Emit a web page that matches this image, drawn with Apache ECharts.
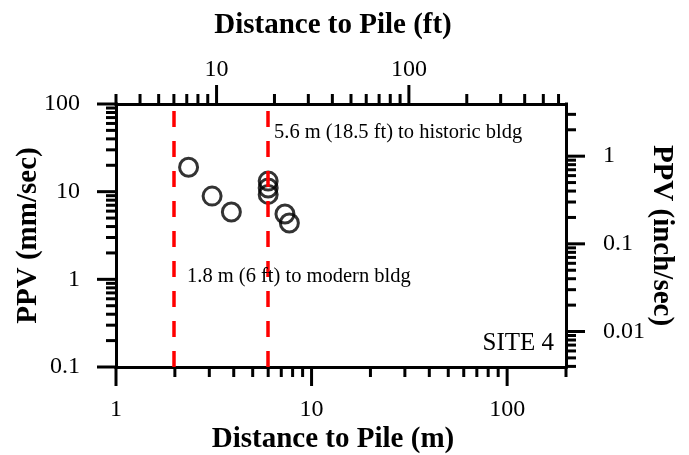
<!DOCTYPE html>
<html>
<head>
<meta charset="utf-8">
<script src="https://cdn.jsdelivr.net/npm/echarts@6/dist/echarts.min.js"></script>
<style>
html,body{margin:0;padding:0;background:#fff;}
#chart{width:689px;height:455px;}
</style>
</head>
<body>
<div id="chart"></div>
<script>
// ---- data ----
const distanceM = [2.35, 3.10, 3.89, 6.0, 6.0, 6.0, 7.31, 7.7];
const ppvMm     = [19.0, 8.9, 5.86, 13.2, 11.0, 9.3, 5.56, 4.39];
const refLinesFt = [6, 18.5];

// axis ranges
const xRangeM  = [1, 200];
const xRangeFt = [3, 656];
const yRangeMm = [0.1, 100];
const yRangeIn = [0.1 / 25.4, 100 / 25.4];

// tick labels
const xLabelsM  = ['1', '10', '100'];
const xLabelsFt = ['10', '100'];
const yLabelsMm = ['0.1', '1', '10', '100'];
const yLabelsIn = ['0.01', '0.1', '1'];

// tick values
const xMajorM  = [1, 10, 100];
const xMinorM  = [2,3,4,5,6,7,8,9,20,30,40,50,60,70,80,90,200];
const xMajorFt = [10, 100];
const xMinorFt = [3,4,5,6,7,8,9,20,30,40,50,60,70,80,90,200,300,400,500,600];
const yMajorMm = [0.1, 1, 10, 100];
const yMinorMm = [0.2,0.3,0.4,0.5,0.6,0.7,0.8,0.9,2,3,4,5,6,7,8,9,20,30,40,50,60,70,80,90];
const yMajorIn = [0.01, 0.1, 1];
const yMinorIn = [0.004,0.005,0.006,0.007,0.008,0.009,0.02,0.03,0.04,0.05,0.06,0.07,0.08,0.09,0.2,0.3,0.4,0.5,0.6,0.7,0.8,0.9,2,3];

const annotations = [
  {text: '5.6 m (18.5 ft) to historic bldg'},
  {text: '1.8 m (6 ft) to modern bldg'},
  {text: 'SITE 4'}
];

// ---- styles ----
const SERIF = '"Liberation Serif", "Times New Roman", serif';
const MAJOR = 19, MINOR = 10;

function lookupLabel(labels) {
  return function (v) {
    for (const s of labels) {
      if (Math.abs(Number(s) / v - 1) < 1e-6) return s;
    }
    return '';
  };
}

function tickData(major, minor, fixed, isX) {
  const out = [];
  major.forEach(v => out.push(isX ? [v, fixed, MAJOR] : [fixed, v, MAJOR]));
  minor.forEach(v => out.push(isX ? [v, fixed, MINOR] : [fixed, v, MINOR]));
  return out;
}

function tickSeries(xi, yi, data, dir) {
  return {
    type: 'custom',
    xAxisIndex: xi,
    yAxisIndex: yi,
    clip: false,
    silent: true,
    z: 3,
    data: data,
    renderItem: function (params, api) {
      const p = api.coord([api.value(0), api.value(1)]);
      const len = api.value(2);
      let x2 = p[0], y2 = p[1];
      if (dir === 'down') y2 += len;
      else if (dir === 'up') y2 -= len;
      else if (dir === 'left') x2 -= len;
      else x2 += len;
      return {
        type: 'line',
        shape: {x1: p[0], y1: p[1], x2: x2, y2: y2},
        style: {stroke: '#000', lineWidth: 3}
      };
    }
  };
}

const axisLineStyle = {show: true, onZero: false, lineStyle: {color: '#000', width: 3, cap: 'square'}};
const labelStyle = {color: '#000', fontFamily: SERIF, fontSize: 24};
const nameStyle = {color: '#000', fontFamily: SERIF, fontSize: 29, fontWeight: 'bold'};

const chart = echarts.init(document.getElementById('chart'), null, {renderer: 'canvas'});

const option = {
  animation: false,
  backgroundColor: '#fff',
  grid: {left: 116, right: 123, top: 104, bottom: 88, containLabel: false, outerBoundsMode: 'none'},
  xAxis: [
    {
      type: 'log', logBase: 10, position: 'bottom',
      min: xRangeM[0], max: xRangeM[1],
      axisLine: axisLineStyle, axisTick: {show: false}, splitLine: {show: false}, minorTick: {show: false},
      axisLabel: Object.assign({margin: 31, formatter: lookupLabel(xLabelsM)}, labelStyle),
      name: 'Distance to Pile (m)', nameLocation: 'middle', nameGap: 58, nameMoveOverlap: false,
      nameTextStyle: Object.assign({padding: [0, 16, 0, 0]}, nameStyle)
    },
    {
      type: 'log', logBase: 10, position: 'top',
      min: xRangeFt[0], max: xRangeFt[1],
      axisLine: axisLineStyle, axisTick: {show: false}, splitLine: {show: false}, minorTick: {show: false},
      axisLabel: Object.assign({margin: 22, formatter: lookupLabel(xLabelsFt)}, labelStyle),
      name: 'Distance to Pile (ft)', nameLocation: 'middle', nameGap: 64, nameMoveOverlap: false,
      nameTextStyle: Object.assign({padding: [0, 16, 0, 0]}, nameStyle)
    }
  ],
  yAxis: [
    {
      type: 'log', logBase: 10, position: 'left',
      min: yRangeMm[0], max: yRangeMm[1],
      axisLine: axisLineStyle, axisTick: {show: false}, splitLine: {show: false}, minorTick: {show: false},
      axisLabel: Object.assign({margin: 36, formatter: lookupLabel(yLabelsMm)}, labelStyle),
      name: 'PPV (mm/sec)', nameLocation: 'middle', nameGap: 73, nameRotate: 90, nameMoveOverlap: false,
      nameTextStyle: nameStyle
    },
    {
      type: 'log', logBase: 10, position: 'right',
      min: yRangeIn[0], max: yRangeIn[1],
      axisLine: axisLineStyle, axisTick: {show: false}, splitLine: {show: false}, minorTick: {show: false},
      axisLabel: Object.assign({margin: 37, formatter: lookupLabel(yLabelsIn)}, labelStyle),
      name: 'PPV (inch/sec)', nameLocation: 'middle', nameGap: 81, nameRotate: -90, nameMoveOverlap: false,
      nameTextStyle: nameStyle
    }
  ],
  series: [
    tickSeries(0, 0, tickData(xMajorM, xMinorM, yRangeMm[0], true), 'down'),
    tickSeries(1, 0, tickData(xMajorFt, xMinorFt, yRangeMm[1], true), 'up'),
    tickSeries(0, 0, tickData(yMajorMm, yMinorMm, xRangeM[0], false), 'left'),
    tickSeries(0, 1, tickData(yMajorIn, yMinorIn, xRangeM[1], false), 'right'),
    {
      type: 'scatter',
      xAxisIndex: 0, yAxisIndex: 0,
      z: 4,
      symbol: 'circle',
      symbolSize: 18,
      itemStyle: {color: 'rgba(0,0,0,0)', borderColor: '#000', borderWidth: 3},
      data: distanceM.map((x, i) => [x, ppvMm[i]])
    },
    {
      type: 'scatter',
      xAxisIndex: 1, yAxisIndex: 0,
      z: 6,
      data: [],
      markLine: {
        silent: true,
        symbol: ['none', 'none'],
        label: {show: false},
        lineStyle: {color: '#ff0000', width: 3.5, type: [16, 14]},
        z: 6,
        data: refLinesFt.map(v => ({xAxis: v}))
      }
    }
  ],
  graphic: [
    {type: 'text', left: 274, top: 122, z: 10,
      style: {text: annotations[0].text, font: '20.5px ' + SERIF, fill: '#000'}},
    {type: 'text', left: 187, top: 266, z: 10,
      style: {text: annotations[1].text, font: '20.5px ' + SERIF, fill: '#000'}},
    {type: 'text', right: 689 - 554, top: 331, z: 10,
      style: {text: annotations[2].text, font: '25px ' + SERIF, fill: '#000'}}
  ]
};

chart.setOption(option);
</script>
</body>
</html>
